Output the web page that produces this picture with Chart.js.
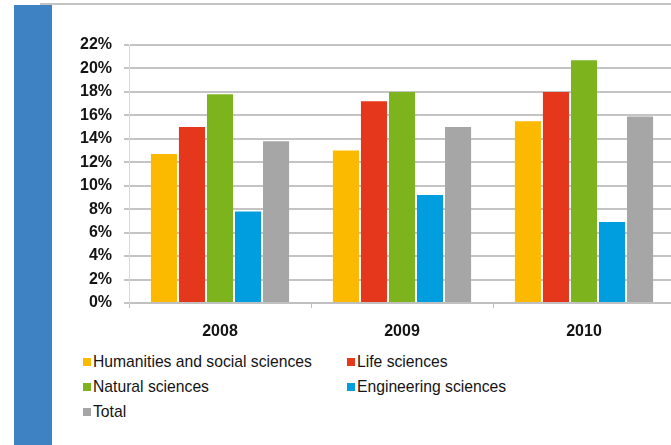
<!DOCTYPE html>
<html>
<head>
<meta charset="utf-8">
<script src="https://cdn.jsdelivr.net/npm/chart.js@4.4.0/dist/chart.umd.min.js"></script>
<style>
  html, body { margin:0; padding:0; background:#fff; width:671px; height:445px; overflow:hidden; position:relative; font-family:"Liberation Sans", Arial, sans-serif; }
  #topline { position:absolute; left:40px; top:3px; width:640px; height:2px; background:#c4c4c4; }
  #sidebar { position:absolute; left:14px; top:5px; width:38px; height:440px; background:#3e82c3; }
  #wrap { position:absolute; left:0; top:0; width:700px; height:345px; }
  #legend { position:absolute; left:0; top:0; }
  .item { position:absolute; font-size:15.7px; color:#141414; white-space:nowrap; line-height:18px; }
  .item span.box { position:absolute; left:-10px; top:5px; width:8px; height:8px; }
</style>
</head>
<body>
<div id="topline"></div>
<div id="sidebar"></div>
<div id="wrap"><canvas id="c" width="700" height="345"></canvas></div>
<div id="legend"></div>
<script>
const categories = ["2008", "2009", "2010"];
const seriesNames = ["Humanities and social sciences", "Life sciences", "Natural sciences", "Engineering sciences", "Total"];
const humanities = [12.7, 13.0, 15.5];
const lifeSciences = [15.0, 17.2, 18.0];
const naturalSciences = [17.8, 18.0, 20.7];
const engineering = [7.8, 9.2, 6.9];
const total = [13.8, 15.0, 15.9];
const yTicks = [0, 2, 4, 6, 8, 10, 12, 14, 16, 18, 20, 22];
const colors = ["#fbb900", "#e4371b", "#7db41e", "#009ddf", "#a6a6a6"];

const seriesValues = [humanities, lifeSciences, naturalSciences, engineering, total];

const chart = new Chart(document.getElementById('c'), {
  type: 'bar',
  data: {
    labels: categories,
    datasets: seriesNames.map((n, i) => ({
      label: n,
      data: seriesValues[i],
      backgroundColor: colors[i],
      borderWidth: 0,
      categoryPercentage: 0.77,
      barPercentage: 0.93
    }))
  },
  options: {
    responsive: false,
    animation: false,
    devicePixelRatio: 1,
    layout: { padding: { top: 45, right: 25, bottom: 4, left: 0 } },
    plugins: { legend: { display: false }, tooltip: { enabled: false } },
    scales: {
      x: {
        afterFit: s => { s.height = 38; },
        grid: { display: true, drawOnChartArea: false, drawTicks: true, tickLength: 5, color: '#bdbdbd', offset: true },
        border: { display: true, color: '#c0c0c0', width: 2 },
        ticks: { padding: 14, color: '#141414', font: { family: 'Liberation Sans', size: 16, weight: 'bold' } }
      },
      y: {
        min: 0, max: 22,
        afterFit: s => { s.width = 129; },
        afterBuildTicks: s => { s.ticks = yTicks.map(v => ({ value: v })); },
        grid: { color: '#c4c4c4', lineWidth: 2, tickLength: 5, drawTicks: true },
        border: { display: true, color: '#d9d9d9', width: 1 },
        ticks: { padding: 12, color: '#141414', callback: v => v + '%', font: { family: 'Liberation Sans', size: 16, weight: 'bold' } }
      }
    }
  }
});

// HTML legend built from the series arrays
const legend = document.getElementById('legend');
const pos = [[93, 353], [357, 353], [93, 378], [357, 378], [93, 403]];
seriesNames.forEach((n, i) => {
  const d = document.createElement('div');
  d.className = 'item';
  d.style.left = pos[i][0] + 'px';
  d.style.top = pos[i][1] + 'px';
  const b = document.createElement('span');
  b.className = 'box';
  b.style.background = colors[i];
  d.appendChild(b);
  d.appendChild(document.createTextNode(n));
  legend.appendChild(d);
});
</script>
</body>
</html>
